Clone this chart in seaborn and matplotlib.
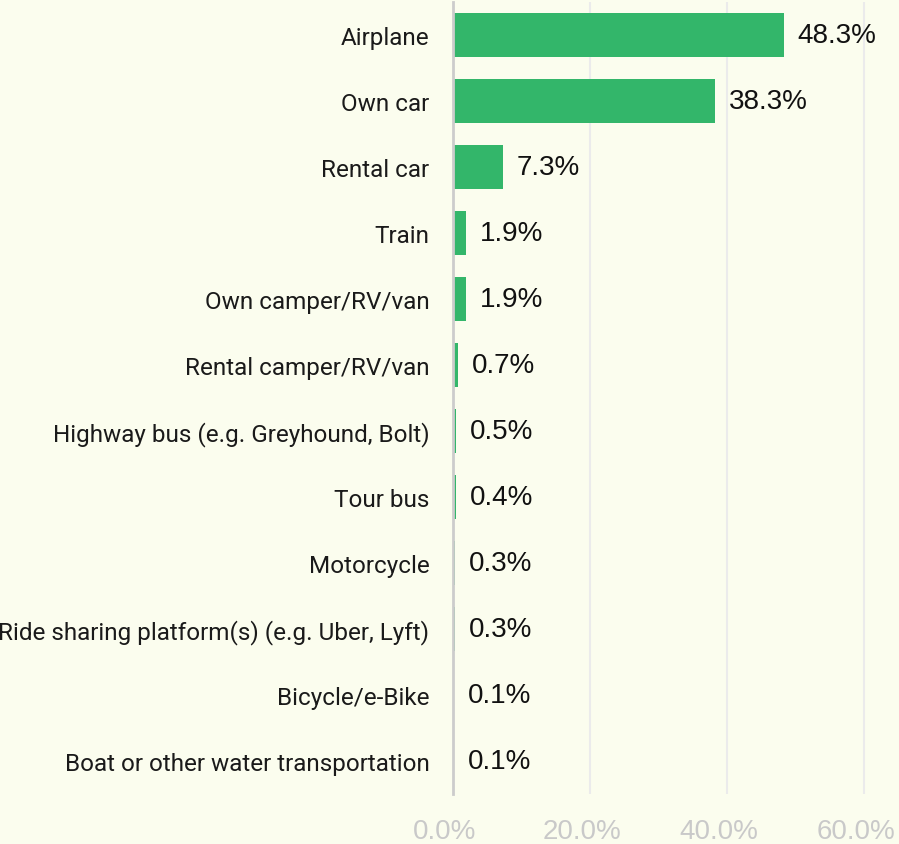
import numpy as np
import pandas as pd
import matplotlib.pyplot as plt
import matplotlib.transforms as mtransforms
import seaborn as sns

modes = ['Airplane', 'Own car', 'Rental car', 'Train', 'Own camper/RV/van',
         'Rental camper/RV/van', 'Highway bus (e.g. Greyhound, Bolt)', 'Tour bus',
         'Motorcycle', 'Ride sharing platform(s) (e.g. Uber, Lyft)',
         'Bicycle/e-Bike', 'Boat or other water transportation']
shares = [48.3, 38.3, 7.3, 1.9, 1.9, 0.7, 0.5, 0.4, 0.3, 0.3, 0.1, 0.1]
xticks = [0, 20, 40, 60]

bg = '#fbfdee'
green = '#33b66a'

df = pd.DataFrame({'mode': modes, 'share': shares})

sns.set_style('white')
plt.rcParams['font.family'] = ['Liberation Sans', 'DejaVu Sans']

fig = plt.figure(figsize=(8.99, 8.45), dpi=100, facecolor=bg)
ax = fig.add_axes([453/899, 50/845, 1 - 453/899, 792/845])
ax.set_facecolor(bg)

sns.barplot(data=df, x='share', y='mode', orient='h', color=green,
            width=0.67, saturation=1, linewidth=0, ax=ax, zorder=3)

ax.bar_label(ax.containers[0], labels=[f'{v:.1f}%' for v in shares],
             padding=10, fontsize=20, color='#111111')

ax.set_xlim(0, 65.1)
ax.set_xticks(xticks)
ax.set_xticklabels([])
# tick labels sit a little left of their gridlines in the reference
shift = mtransforms.ScaledTranslation(-8/100, 0, fig.dpi_scale_trans)
trans = mtransforms.blended_transform_factory(ax.transData, ax.transAxes) + shift
for t in xticks:
    ax.text(t, -0.047, f'{t:.1f}%', transform=trans, ha='center', va='center',
            fontsize=20, color='#c9c9c9')
ax.tick_params(axis='x', length=0)
ax.tick_params(axis='y', length=0, pad=17, labelsize=17.5, labelcolor='#1a1a1a')
for lab in ax.get_yticklabels():
    lab.set_family(['Roboto', 'DejaVu Sans'])

ax.grid(axis='x', color='#ebebeb', linewidth=1.5, zorder=0)
ax.set_xlabel('')
ax.set_ylabel('')
sns.despine(ax=ax, top=True, right=True, bottom=True)
ax.spines['left'].set_color('#cccccc')
ax.spines['left'].set_linewidth(2)
ax.spines['left'].set_zorder(4)

plt.savefig('out.png', dpi=100, facecolor=bg)
plt.close('all')
